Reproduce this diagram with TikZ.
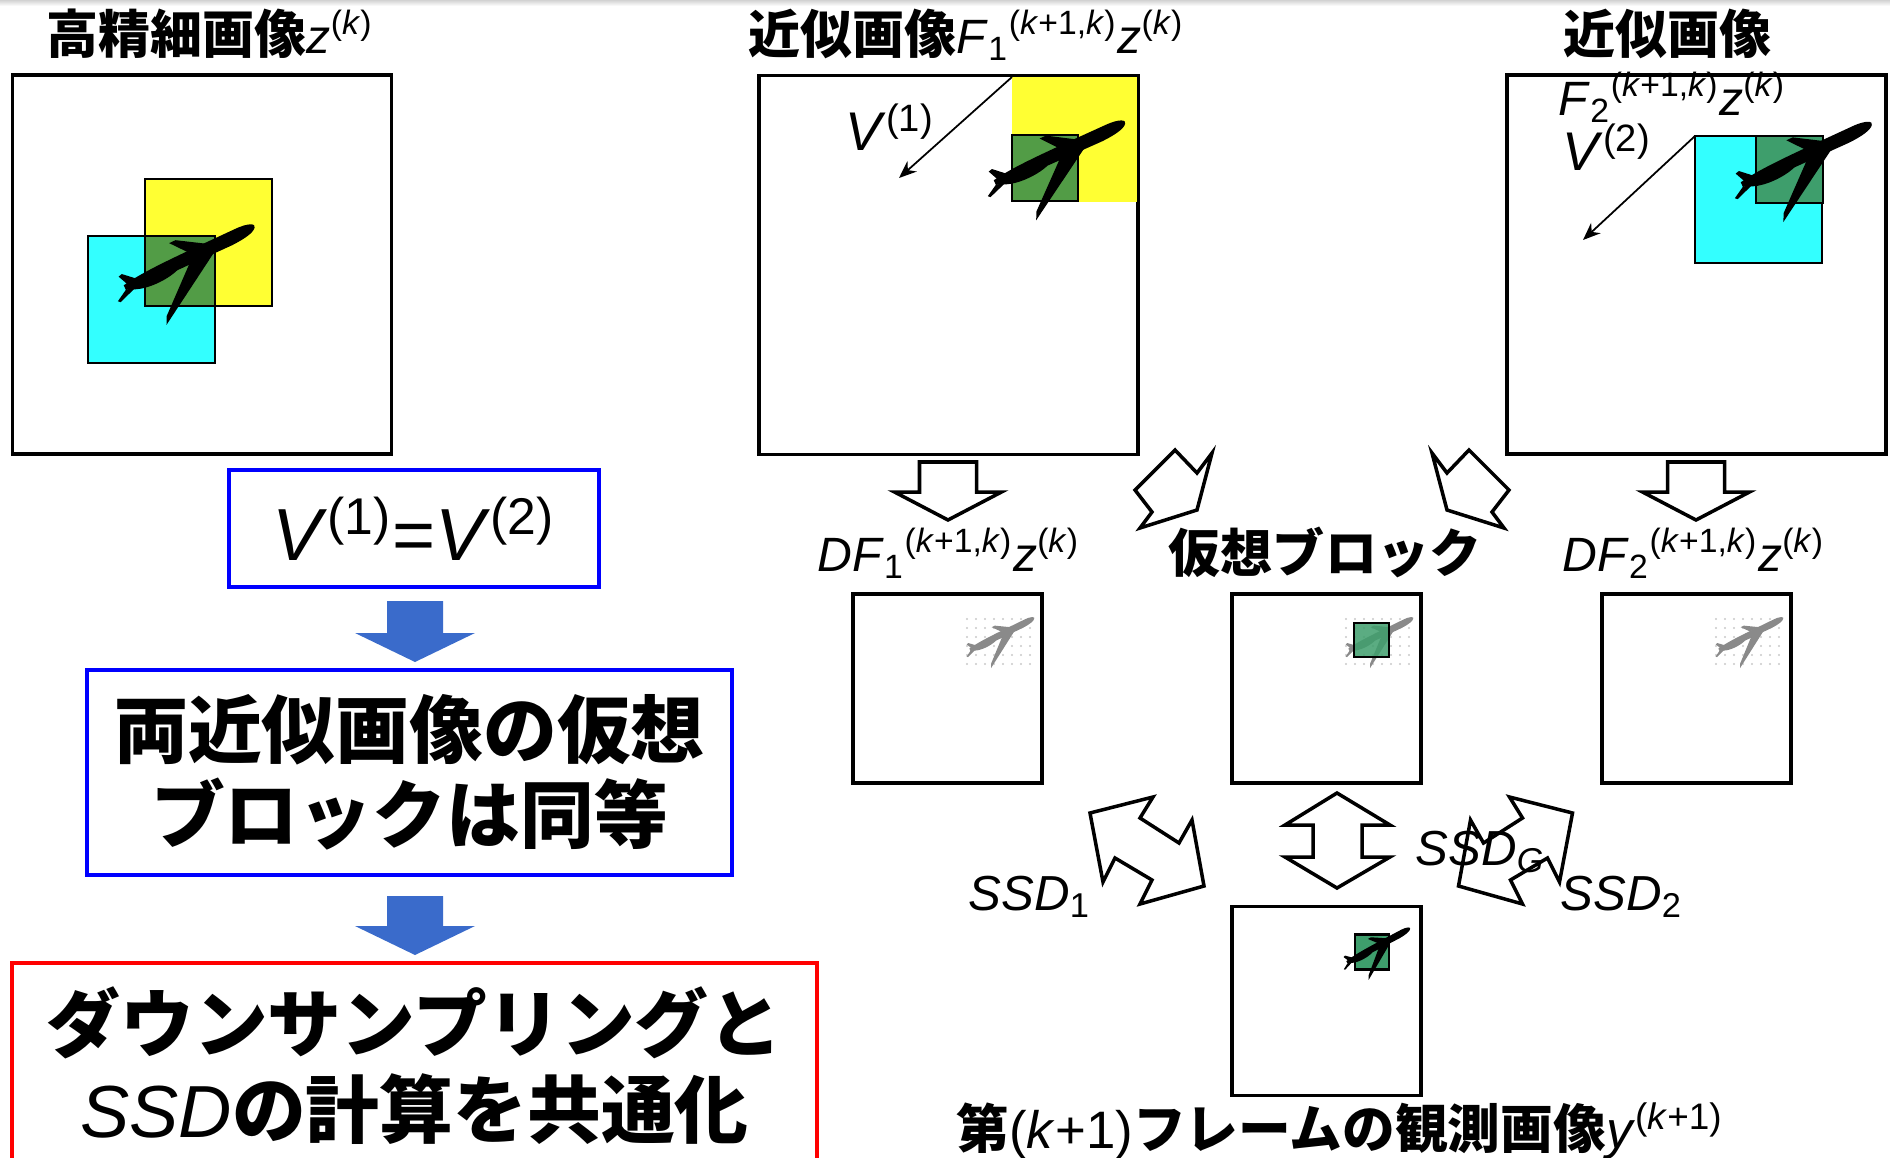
\documentclass[tikz,border=0pt]{standalone}
\usepackage{fontspec}
\setmainfont{Liberation Sans}
\newfontfamily\jp{Noto Sans CJK JP}
\usetikzlibrary{arrows.meta}

\definecolor{padyellow}{RGB}{255,255,51}
\definecolor{padcyan}{RGB}{51,255,255}
\definecolor{olivegreen}{RGB}{82,156,70}
\definecolor{padgreen}{RGB}{62,158,108}
\definecolor{flowblue}{RGB}{58,107,203}
\definecolor{planegray}{RGB}{138,138,138}
\definecolor{dotgray}{RGB}{200,200,200}

\newcommand{\jptitle}{\jp\bfseries\fontsize{14.8}{18}\selectfont}
\newcommand{\formula}{\normalfont\fontsize{13.7}{16}\selectfont}
\newcommand{\zk}{\textit{z}\textsuperscript{(\textit{k})}}
\newcommand{\Fk}[1]{\textit{F}\textsubscript{#1}\textsuperscript{(\textit{k}+1,\textit{k})}}

\newcommand{\jet}[1]{%
  \fill[#1] (0,0.03) .. controls (0.25,0.075) and (0.6,0.07) .. (1.25,0.07)
    .. controls (1.40,0.07) and (1.46,0.03) .. (1.43,0)
    .. controls (1.40,-0.04) and (1.30,-0.06) .. (1.15,-0.065)
    -- (0.55,-0.06) .. controls (0.40,-0.11) and (0.20,-0.10) .. (0.10,-0.06)
    -- (0,-0.02) -- cycle;
  \fill[#1] (0.98,-0.04) -- (0.30,-0.46) -- (0.22,-0.51) -- (0.26,-0.43) -- (0.70,-0.04) -- cycle;
  \fill[#1] (0.92,0.06) -- (0.66,0.22) -- (0.59,0.22) -- (0.72,0.06) -- cycle;
  \fill[#1] (0.14,0.04) -- (0.03,0.14) -- (-0.01,0.13) -- (0.04,0.02) -- cycle;
  \fill[#1] (0.10,-0.04) -- (-0.10,-0.11) -- (-0.12,-0.09) -- (0,-0.02) -- cycle;
}

\tikzset{
  frame/.style={draw,line width=1pt,inner sep=0pt,outer sep=0pt,anchor=north west},
  pad/.style={line width=0.6pt,inner sep=0pt,outer sep=0pt,anchor=north west},
  hollow/.style={draw,line width=1pt,line join=miter},
  flow/.style={fill=flowblue},
  vec/.style={line width=0.5pt,-{Stealth[length=5pt,width=4pt]}},
  lbl/.style={anchor=base west,inner sep=0pt},
  note/.style={line width=1.1pt,inner sep=0pt,align=center}
}

\begin{document}
\begin{tikzpicture}
\useasboundingbox (0,0) rectangle (18.90,-11.57);
\clip (0,0) rectangle (18.90,-11.57);
\shade[top color=gray!35,bottom color=white] (0,0) rectangle (18.90,-0.06);

\node[frame,minimum size=3.79cm] (hr) at (0.125,-0.75) {};
\node[frame,minimum size=3.79cm] (f1) at (7.59,-0.755) {};
\node[frame,minimum size=3.79cm] (f2) at (15.07,-0.75) {};
\node[frame,minimum size=1.89cm] (df1) at (8.53,-5.94) {};
\node[frame,minimum size=1.89cm] (vb) at (12.32,-5.94) {};
\node[frame,minimum size=1.89cm] (df2) at (16.02,-5.94) {};
\node[frame,minimum size=1.89cm] (obs) at (12.32,-9.065) {};

\node[pad,fill=padyellow,minimum size=1.27cm] (y0) at (1.45,-1.79) {};
\node[pad,fill=padcyan,minimum size=1.27cm] (c0) at (0.88,-2.36) {};
\fill[olivegreen] (y0.west |- c0.north) rectangle (c0.east |- y0.south);
\draw[line width=0.6pt] (y0.north west) rectangle (y0.south east);
\draw[line width=0.6pt] (c0.north west) rectangle (c0.south east);
\begin{scope}[shift={(1.25,-2.88)},rotate=25]
  \jet{black}
\end{scope}

\node[pad,fill=padyellow,minimum size=1.25cm] (y1) at (10.12,-0.77) {};
\node[pad,draw,fill=olivegreen,minimum size=0.66cm] (g1) at (10.12,-1.35) {};
\begin{scope}[shift={(9.95,-1.83)},rotate=24.5]
  \jet{black}
\end{scope}
\coordinate (v1e) at (8.99,-1.78);
\draw[vec] (y1.north west) -- (v1e);

\node[pad,draw,fill=padcyan,minimum size=1.27cm] (c2) at (16.95,-1.36) {};
\node[pad,draw,fill=padgreen,minimum size=0.67cm] (g2) at (17.56,-1.36) {};
\begin{scope}[shift={(17.42,-1.85)},rotate=24.8]
  \jet{black}
\end{scope}
\coordinate (v2e) at (15.83,-2.40);
\draw[vec] (c2.north west) -- (v2e);

\foreach \b in {df1,vb,df2}{
  \begin{scope}[shift={(\b.north west)}]
    \foreach \i in {0,...,7}
      \foreach \j in {0,...,5}
        \fill[dotgray] (1.14+0.09*\i,-0.25-0.09*\j) circle (0.011);
    \begin{scope}[shift={(1.17,-0.56)},rotate=26,scale=0.5]
      \jet{planegray}
    \end{scope}
  \end{scope}
}
\begin{scope}[shift={(vb.north west)}]
  \filldraw[line width=0.6pt,fill=padgreen,fill opacity=0.85] (1.22,-0.29) rectangle (1.57,-0.63);
\end{scope}
\begin{scope}[shift={(obs.north west)}]
  \filldraw[line width=0.6pt,fill=padgreen] (1.23,-0.28) rectangle (1.57,-0.63);
  \begin{scope}[shift={(1.15,-0.56)},rotate=28,scale=0.5]
    \jet{black}
  \end{scope}
\end{scope}

\node[lbl] (t-hr) at (0.46,-0.53) {\jptitle 高精細画像\formula\zk};
\node[lbl] (t-f1) at (7.48,-0.53) {\jptitle 近似画像\formula\Fk{1}\zk};
\node[lbl] (t-f2) at (15.63,-0.53) {\jptitle 近似画像};
\node[lbl] (l-f2) at (15.58,-1.15) {\formula\Fk{2}\zk};
\node[lbl] (l-v1) at (8.45,-1.50) {\normalfont\fontsize{15.5}{18}\selectfont\textit{V}\textsuperscript{(1)}};
\node[lbl] (l-v2) at (15.62,-1.70) {\normalfont\fontsize{15.5}{18}\selectfont\textit{V}\textsuperscript{(2)}};

\foreach \cx in {9.48,16.96}
  \draw[hollow] (\cx-0.285,-4.62) -- (\cx+0.285,-4.62) -- (\cx+0.285,-4.92) -- (\cx+0.535,-4.92)
    -- (\cx,-5.20) -- (\cx-0.535,-4.92) -- (\cx-0.285,-4.92) -- cycle;
\draw[hollow] (11.35,-4.90) -- (11.75,-4.50) -- (11.97,-4.73) -- (12.12,-4.53) -- (11.97,-5.10)
  -- (11.40,-5.28) -- (11.52,-5.12) -- cycle;
\draw[hollow] (15.09,-4.90) -- (14.69,-4.50) -- (14.47,-4.73) -- (14.32,-4.53) -- (14.47,-5.10)
  -- (15.04,-5.28) -- (14.92,-5.12) -- cycle;

\node[lbl] (l-df1) at (8.17,-5.71) {\formula\textit{D}\Fk{1}\zk};
\node[anchor=base,inner sep=0pt] (l-vb) at (13.25,-5.72) {\jptitle 仮想ブロック};
\node[lbl] (l-df2) at (15.62,-5.71) {\formula\textit{D}\Fk{2}\zk};

\draw[hollow] (10.90,-8.13) -- (11.53,-7.97) -- (11.40,-8.18) -- (11.79,-8.43) -- (11.92,-8.20)
  -- (12.04,-8.86) -- (11.40,-9.04) -- (11.52,-8.80) -- (11.15,-8.58) -- (11.03,-8.82) -- cycle;
\draw[hollow] (15.725,-8.13) -- (15.095,-7.97) -- (15.225,-8.18) -- (14.835,-8.43) -- (14.705,-8.20)
  -- (14.585,-8.86) -- (15.225,-9.04) -- (15.105,-8.80) -- (15.475,-8.58) -- (15.595,-8.82) -- cycle;
\draw[hollow] (13.37,-7.93) -- (13.90,-8.25) -- (13.62,-8.25) -- (13.62,-8.57) -- (13.90,-8.57)
  -- (13.37,-8.88) -- (12.85,-8.57) -- (13.13,-8.57) -- (13.13,-8.25) -- (12.85,-8.25) -- cycle;

\node[lbl] (l-ssd1) at (9.68,-9.10) {\normalfont\fontsize{14}{17}\selectfont\textit{SSD}\textsubscript{1}};
\node[lbl] (l-ssdg) at (14.15,-8.65) {\normalfont\fontsize{14}{17}\selectfont\textit{SSD}\textsubscript{\textit{G}}};
\node[lbl] (l-ssd2) at (15.60,-9.10) {\normalfont\fontsize{14}{17}\selectfont\textit{SSD}\textsubscript{2}};

\node[lbl] (l-obs) at (9.56,-11.48) {\jp\bfseries\fontsize{15}{18}\selectfont 第\normalfont(\textit{k}+1)\jp\bfseries フレームの観測画像\normalfont\textit{y}\textsuperscript{(\textit{k}+1)}};

\node[note,draw=blue,minimum width=3.70cm,minimum height=1.17cm,font=\fontsize{21}{24}\selectfont] (same) at (4.14,-5.285)
  {\textit{V}\textsuperscript{(1)}=\textit{V}\textsuperscript{(2)}};
\node[note,draw=blue,minimum width=6.45cm,minimum height=2.05cm,font=\jp\bfseries\fontsize{21}{24.2}\selectfont] (equal) at (4.095,-7.725)
  {両近似画像の仮想\\ブロックは同等};
\node[note,draw=red,minimum width=8.05cm,minimum height=2.05cm,font=\jp\bfseries\fontsize{21}{24.7}\selectfont] (common) at (4.145,-10.655)
  {ダウンサンプリングと\\{\normalfont\textit{SSD}}の計算を共通化};

\foreach \top/\sh/\tip in {-6.01/-6.33/-6.62,-8.96/-9.26/-9.55}
  \fill[flow] (3.87,\top) -- (4.43,\top) -- (4.43,\sh) -- (4.75,\sh) -- (4.15,\tip)
    -- (3.55,\sh) -- (3.87,\sh) -- cycle;
\end{tikzpicture}
\end{document}
